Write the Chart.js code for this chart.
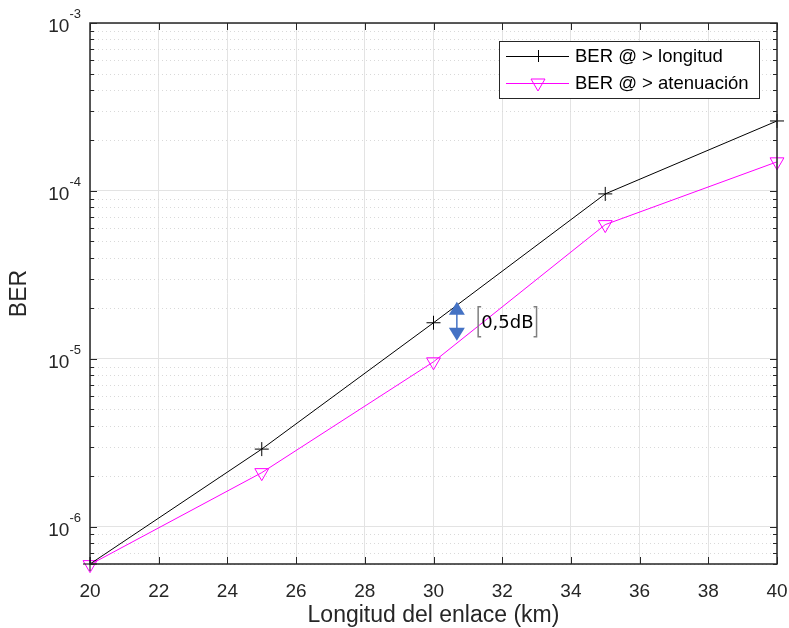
<!DOCTYPE html>
<html>
<head>
<meta charset="utf-8">
<script src="https://cdn.jsdelivr.net/npm/chart.js@4/dist/chart.umd.min.js"></script>
<style>
  html, body { margin: 0; padding: 0; background: #fff; }
  #wrap { width: 789px; height: 628px; }
</style>
</head>
<body>
<div id="wrap"><canvas id="c" width="789" height="628"></canvas></div>
<script>
// Longitud del enlace (km)
const distances = [20, 25, 30, 35, 40];
const berLongitud = [6.0e-7, 2.9e-6, 1.64e-5, 9.6e-5, 2.61e-4];
const berAtenuacion = [5.95e-7, 2.1e-6, 9.6e-6, 6.3e-5, 1.49e-4];
const xTicks = [20, 22, 24, 26, 28, 30, 32, 34, 36, 38, 40];
const yDecades = [-6, -5, -4, -3];
// annotation: arrow between the curves near 30.7 km
const arrowX = 30.68;
const arrowTop = 2.19e-5;
const arrowBottom = 1.28e-5;
const noteX = 31.3;
const noteY = 1.66e-5;
const noteText = '0,5dB';

const AX = '#262626';
const FONT = '"Liberation Sans", Arial, Helvetica, sans-serif';

const matlabAxes = {
    id: 'matlabAxes',
    beforeDatasetsDraw(chart) {
        const ctx = chart.ctx, a = chart.chartArea;
        const y = chart.scales.y;
        ctx.save();
        ctx.strokeStyle = '#d9d9d9';
        ctx.lineWidth = 1;
        ctx.setLineDash([1, 3]);
        for (let n = -7; n <= -4; n++) {
            for (let k = 2; k <= 9; k++) {
                const v = k * Math.pow(10, n);
                if (v < y.min || v > y.max) continue;
                const py = Math.round(y.getPixelForValue(v)) + 0.5;
                ctx.beginPath();
                ctx.moveTo(a.left, py);
                ctx.lineTo(a.right, py);
                ctx.stroke();
            }
        }
        ctx.restore();
    },
    afterDatasetsDraw(chart) {
        const ctx = chart.ctx, a = chart.chartArea;
        const x = chart.scales.x, y = chart.scales.y;
        ctx.save();
        ctx.strokeStyle = AX;
        ctx.lineWidth = 1.5;
        ctx.setLineDash([]);
        ctx.strokeRect(a.left, a.top, a.right - a.left, a.bottom - a.top);
        ctx.lineWidth = 1;
        ctx.beginPath();
        xTicks.forEach(t => {
            const px = Math.round(x.getPixelForValue(t)) + 0.5;
            ctx.moveTo(px, a.bottom); ctx.lineTo(px, a.bottom - 7);
            ctx.moveTo(px, a.top); ctx.lineTo(px, a.top + 7);
        });
        for (let n = -7; n <= -3; n++) {
            for (let k = 1; k <= 9; k++) {
                const v = k * Math.pow(10, n);
                if (v < y.min || v > y.max * 1.0001) continue;
                const py = Math.round(y.getPixelForValue(v)) + 0.5;
                const len = k === 1 ? 7 : 4;
                ctx.moveTo(a.left, py); ctx.lineTo(a.left + len, py);
                ctx.moveTo(a.right, py); ctx.lineTo(a.right - len, py);
            }
        }
        ctx.stroke();

        // y tick labels 10^n
        ctx.fillStyle = AX;
        yDecades.forEach(n => {
            const py = y.getPixelForValue(Math.pow(10, n));
            ctx.font = '13px ' + FONT;
            const sup = String(n);
            const sw = ctx.measureText(sup).width;
            ctx.textAlign = 'right';
            ctx.textBaseline = 'alphabetic';
            ctx.fillText(sup, 81, py - 5);
            ctx.font = '19px ' + FONT;
            ctx.fillText('10', 81 - sw, py + 9);
        });

        // axis titles
        ctx.font = '23px ' + FONT;
        ctx.textAlign = 'center';
        ctx.textBaseline = 'middle';
        ctx.fillText('Longitud del enlace (km)', (a.left + a.right) / 2, 616);
        ctx.save();
        ctx.translate(20, (a.top + a.bottom) / 2);
        ctx.rotate(-Math.PI / 2);
        ctx.fillText('BER', 0, 0);
        ctx.restore();

        // annotation arrow
        const ax = x.getPixelForValue(arrowX);
        const t = y.getPixelForValue(arrowTop), b = y.getPixelForValue(arrowBottom);
        ctx.fillStyle = '#4472c4';
        ctx.strokeStyle = '#4472c4';
        ctx.lineWidth = 1.5;
        ctx.beginPath();
        ctx.moveTo(ax, t + 12); ctx.lineTo(ax, b - 12);
        ctx.stroke();
        ctx.beginPath();
        ctx.moveTo(ax, t); ctx.lineTo(ax + 8, t + 13); ctx.lineTo(ax - 8, t + 13); ctx.closePath();
        ctx.fill();
        ctx.beginPath();
        ctx.moveTo(ax, b); ctx.lineTo(ax + 8, b - 13); ctx.lineTo(ax - 8, b - 13); ctx.closePath();
        ctx.fill();

        // annotation text with bracket
        const nx = x.getPixelForValue(noteX), ny = y.getPixelForValue(noteY);
        ctx.font = '18px "DejaVu Sans", sans-serif';
        ctx.fillStyle = '#000';
        ctx.textAlign = 'left';
        ctx.textBaseline = 'middle';
        const tw = ctx.measureText(noteText).width;
        ctx.fillText(noteText, nx + 3, ny + 1);
        ctx.strokeStyle = '#7f7f7f';
        ctx.lineWidth = 1.5;
        ctx.beginPath();
        ctx.moveTo(nx + 3, ny - 15); ctx.lineTo(nx, ny - 15); ctx.lineTo(nx, ny + 15); ctx.lineTo(nx + 3, ny + 15);
        const rx = nx + tw + 6;
        ctx.moveTo(rx - 3, ny - 15); ctx.lineTo(rx, ny - 15); ctx.lineTo(rx, ny + 15); ctx.lineTo(rx - 3, ny + 15);
        ctx.stroke();

        // legend
        const lx = 499.5, ly = 41.5, lw = 260, lh = 57;
        ctx.fillStyle = '#fff';
        ctx.fillRect(lx, ly, lw, lh);
        ctx.strokeStyle = AX;
        ctx.lineWidth = 1;
        ctx.strokeRect(lx, ly, lw, lh);
        chart.data.datasets.forEach((ds, i) => {
            const ry = 56 + i * 27;
            ctx.strokeStyle = ds.borderColor;
            ctx.lineWidth = 1;
            ctx.beginPath();
            ctx.moveTo(506, ry + 0.5); ctx.lineTo(569, ry + 0.5);
            ctx.stroke();
            const m = 538;
            ctx.beginPath();
            if (i === 0) {
                ctx.moveTo(m - 6, ry + 0.5); ctx.lineTo(m + 6, ry + 0.5);
                ctx.moveTo(m + 0.5, ry - 6); ctx.lineTo(m + 0.5, ry + 6);
            } else {
                ctx.moveTo(m - 7, ry - 4); ctx.lineTo(m + 7, ry - 4); ctx.lineTo(m, ry + 8); ctx.closePath();
            }
            ctx.stroke();
            ctx.fillStyle = '#000';
            ctx.font = '18.5px ' + FONT;
            ctx.textAlign = 'left';
            ctx.textBaseline = 'middle';
            ctx.fillText(ds.label, 575, ry + 1);
        });
        ctx.restore();
    }
};

new Chart(document.getElementById('c'), {
    type: 'line',
    data: {
        labels: distances,
        datasets: [
            {
                label: 'BER @ > longitud',
                data: distances.map((d, i) => ({ x: d, y: berLongitud[i] })),
                borderColor: '#000000',
                backgroundColor: 'transparent',
                borderWidth: 1,
                pointStyle: 'cross',
                pointRadius: 7,
                pointBorderWidth: 1,
                pointBorderColor: '#000000',
                tension: 0,
                clip: false
            },
            {
                label: 'BER @ > atenuación',
                data: distances.map((d, i) => ({ x: d, y: berAtenuacion[i] })),
                borderColor: '#ff00ff',
                backgroundColor: 'transparent',
                borderWidth: 1,
                pointStyle: 'triangle',
                pointRotation: 180,
                pointRadius: 8,
                pointBorderWidth: 1,
                pointBorderColor: '#ff00ff',
                pointBackgroundColor: 'transparent',
                tension: 0,
                clip: false
            }
        ]
    },
    options: {
        responsive: false,
        animation: false,
        layout: { padding: { top: 23, right: 12, left: 0, bottom: 0 } },
        plugins: { legend: { display: false }, tooltip: { enabled: false } },
        scales: {
            x: {
                type: 'linear',
                min: 20,
                max: 40,
                afterBuildTicks: s => { s.ticks = xTicks.map(v => ({ value: v })); },
                afterFit: s => { s.height = 64; s.paddingLeft = 0; s.paddingRight = 0; },
                grid: { color: '#e3e3e3', drawTicks: false },
                border: { display: false },
                ticks: { font: { size: 19, family: FONT }, color: AX, padding: 16 }
            },
            y: {
                type: 'logarithmic',
                min: 6e-7,
                max: 1e-3,
                afterBuildTicks: s => { s.ticks = yDecades.map(n => ({ value: Math.pow(10, n) })); },
                afterFit: s => { s.width = 90; s.paddingTop = 0; s.paddingBottom = 0; },
                grid: { color: '#e3e3e3', drawTicks: false },
                border: { display: false },
                ticks: { display: false }
            }
        }
    },
    plugins: [matlabAxes]
});
</script>
</body>
</html>
